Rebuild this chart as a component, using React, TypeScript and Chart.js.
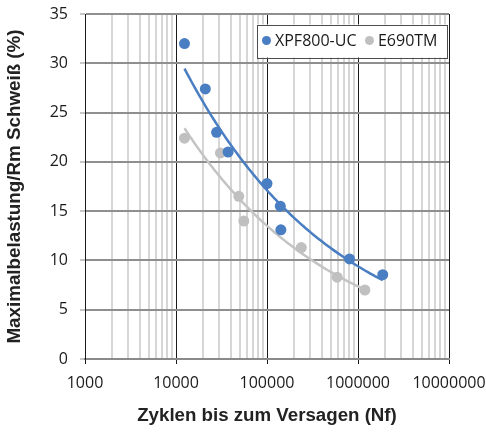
import { useEffect, useRef } from 'react';
import { Chart, registerables } from 'chart.js';

Chart.register(...registerables);

// ---- data ----
const seriesNames = ['XPF800-UC', 'E690TM'];
const xpfCycles = [12400, 21000, 27900, 37400, 100000, 140000, 142000, 807000, 1870000];
const xpfLoad = [32.0, 27.4, 23.0, 21.0, 17.8, 15.5, 13.1, 10.15, 8.55];
const e690Cycles = [12400, 30800, 49000, 55600, 238000, 590000, 1190000];
const e690Load = [22.4, 20.9, 16.5, 14.0, 11.3, 8.3, 7.0];
const xMin = 1000;
const xMax = 10000000;
const yMin = 0;
const yMax = 35;
const yStep = 5;
const xTitle = 'Zyklen bis zum Versagen (Nf)';
const yTitle = 'Maximalbelastung/Rm Schweiß (%)';

const blue = '#4a7ec2';
const grey = '#c0c0c0';

// power trendline (least squares in log-log space), like a spreadsheet power trendline
function powerTrend(xs: number[], ys: number[], n = 80) {
  const lx = xs.map(Math.log);
  const ly = ys.map(Math.log);
  const mx = lx.reduce((s, v) => s + v, 0) / lx.length;
  const my = ly.reduce((s, v) => s + v, 0) / ly.length;
  let sxy = 0;
  let sxx = 0;
  for (let i = 0; i < lx.length; i++) {
    sxy += (lx[i] - mx) * (ly[i] - my);
    sxx += (lx[i] - mx) * (lx[i] - mx);
  }
  const b = sxy / sxx;
  const a = Math.exp(my - b * mx);
  const lo = Math.log(Math.min(...xs));
  const hi = Math.log(Math.max(...xs));
  const pts: { x: number; y: number }[] = [];
  for (let i = 0; i <= n; i++) {
    const x = Math.exp(lo + ((hi - lo) * i) / n);
    pts.push({ x, y: a * Math.pow(x, b) });
  }
  return pts;
}

const isDecade = (v: number) => Math.abs(Math.log10(v) - Math.round(Math.log10(v))) < 1e-9;

const boxLegend = {
  id: 'boxLegend',
  afterDraw(chart: any) {
    const ctx = chart.ctx as CanvasRenderingContext2D;
    const ca = chart.chartArea;
    const items = [0, 1].map((i) => ({
      label: chart.data.datasets[i].label as string,
      color: chart.data.datasets[i].backgroundColor as string,
    }));
    ctx.save();
    ctx.font = '16px "Open Sans"';
    const padL = 9.5;
    const padR = 9.5;
    const dotR = 4.5;
    const dotGap = 8.5;
    const itemGap = 13;
    const widths = items.map((it) => ctx.measureText(it.label).width);
    const w = padL + widths.reduce((s, v) => s + v + dotGap, 0) + itemGap * (items.length - 1) + padR;
    const h = 33;
    const right = ca.right - 2;
    const left = right - w;
    const top = ca.top + 10.5;
    ctx.fillStyle = '#ffffff';
    ctx.fillRect(left, top, w, h);
    ctx.strokeStyle = '#4d4d4d';
    ctx.lineWidth = 1;
    ctx.strokeRect(Math.round(left) + 0.5, Math.round(top) + 0.5, Math.round(w), Math.round(h));
    let x = left + padL;
    const cy = top + h / 2;
    items.forEach((it, i) => {
      ctx.fillStyle = it.color;
      ctx.beginPath();
      ctx.arc(x, cy - 0.5, dotR, 0, Math.PI * 2);
      ctx.fill();
      ctx.fillStyle = '#1a1a1a';
      ctx.textAlign = 'left';
      ctx.textBaseline = 'middle';
      ctx.fillText(it.label, x + dotGap, cy);
      x = x + dotGap + widths[i] + itemGap;
    });
    ctx.restore();
  },
};

export default function App() {
  const ref = useRef<HTMLCanvasElement | null>(null);

  useEffect(() => {
    document.body.style.margin = '0';
    if (!ref.current) return;
    const chart = new Chart(ref.current, {
      type: 'scatter',
      data: {
        datasets: [
          {
            label: seriesNames[0],
            data: xpfCycles.map((x, i) => ({ x, y: xpfLoad[i] })),
            backgroundColor: blue,
            borderColor: blue,
            borderWidth: 0,
            pointRadius: 5.5,
            pointHoverRadius: 5.5,
            showLine: false,
          },
          {
            label: seriesNames[1],
            data: e690Cycles.map((x, i) => ({ x, y: e690Load[i] })),
            backgroundColor: grey,
            borderColor: grey,
            borderWidth: 0,
            pointRadius: 5.5,
            pointHoverRadius: 5.5,
            showLine: false,
          },
          {
            label: 'trend1',
            data: powerTrend(xpfCycles, xpfLoad),
            borderColor: blue,
            backgroundColor: blue,
            borderWidth: 2.5,
            pointRadius: 0,
            showLine: true,
            tension: 0,
          },
          {
            label: 'trend2',
            data: powerTrend(e690Cycles, e690Load),
            borderColor: '#c4c4c4',
            backgroundColor: '#c4c4c4',
            borderWidth: 2.5,
            pointRadius: 0,
            showLine: true,
            tension: 0,
          },
        ],
      },
      options: {
        responsive: false,
        animation: false,
        layout: { padding: { left: 0, top: 14, right: 37, bottom: 0 } },
        plugins: {
          legend: { display: false },
          tooltip: { enabled: false },
        },
        scales: {
          x: {
            type: 'logarithmic',
            min: xMin,
            max: xMax,
            afterBuildTicks(scale: any) {
              const ticks: { value: number }[] = [];
              for (let d = xMin; d < xMax; d *= 10) {
                for (let m = 1; m < 10; m++) ticks.push({ value: d * m });
              }
              ticks.push({ value: xMax });
              scale.ticks = ticks;
            },
            afterFit(scale: any) {
              scale.height = 73;
              scale.paddingLeft = 0;
              scale.paddingRight = 0;
            },
            grid: {
              color: (c: any) => (c.tick && isDecade(c.tick.value) ? '#1a1a1a' : '#d6d6d6'),
              lineWidth: (c: any) => (c.tick && isDecade(c.tick.value) ? 1 : 2),
              tickColor: (c: any) => (c.tick && isDecade(c.tick.value) ? '#1a1a1a' : 'rgba(0,0,0,0)'),
              tickLength: 5,
              tickWidth: 1,
            },
            border: { display: true, color: '#8a8a8a', width: 2 },
            ticks: {
              autoSkip: false,
              maxRotation: 0,
              padding: 10,
              color: '#1a1a1a',
              font: { family: '"Open Sans"', size: 16 },
              callback: (v: any) => (isDecade(Number(v)) ? String(Number(v)) : ''),
            },
            title: {
              display: true,
              text: xTitle,
              color: '#222222',
              font: { family: '"Liberation Sans", Arial', size: 18.7, weight: 'bold' },
              padding: { top: 0, bottom: 5 },
            },
          },
          y: {
            min: yMin,
            max: yMax,
            afterFit(scale: any) {
              scale.width = 85;
              scale.paddingTop = 0;
              scale.paddingBottom = 0;
            },
            grid: {
              color: '#8f8f8f',
              lineWidth: 2,
              tickColor: '#8f8f8f',
              tickLength: 5,
              tickWidth: 1,
            },
            border: { display: true, color: '#1a1a1a', width: 1 },
            ticks: {
              stepSize: yStep,
              padding: 12,
              color: '#1a1a1a',
              font: { family: '"Open Sans"', size: 16 },
            },
            title: {
              display: true,
              text: yTitle,
              color: '#222222',
              font: { family: '"Liberation Sans", Arial', size: 18.8, weight: 'bold' },
              padding: { top: 4, bottom: 0 },
            },
          },
        },
      },
      plugins: [boxLegend],
    });
    return () => chart.destroy();
  }, []);

  return (
    <div style={{ position: 'absolute', left: 0, top: 0, width: 486, height: 432 }}>
      <canvas ref={ref} width={486} height={432} style={{ display: 'block' }} />
    </div>
  );
}
